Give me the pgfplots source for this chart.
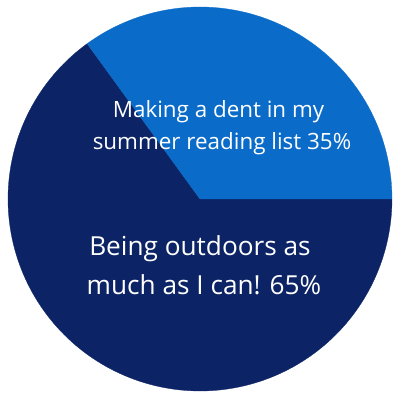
\documentclass[border=0pt]{standalone}
\usepackage{fontspec}
\setmainfont{Open Sans}
\usepackage{pgfplots}
\usepackage{pgfplotstable}
\pgfplotsset{compat=1.18}

\definecolor{lightblue}{HTML}{0A6BC9}
\definecolor{navy}{HTML}{0C2465}

% share of answers, in percent, counted anticlockwise from 3 o'clock
\pgfplotstableread{
label    share
reading  35
outdoors 65
}\pietab

\begin{document}
\begin{tikzpicture}
\pgfplotstablegetelem{0}{share}\of\pietab
\pgfmathsetmacro{\angA}{3.6*\pgfplotsretval}
\begin{axis}[
  width=400bp, height=400bp,
  scale only axis,
  xmin=0, xmax=400, ymin=0, ymax=400,
  hide axis,
  clip=false,
]
% keep the whole 400x400 frame in the picture
\path (axis cs:0,0) rectangle (axis cs:400,400);
% outdoors slice
\addplot[draw=navy, line width=0.3pt, fill=navy, domain=\angA:360, samples=150, variable=\t]
  ({200+192*cos(t)}, {201+192*sin(t)}) -- (200,201) -- cycle;
% reading slice
\addplot[draw=lightblue, line width=0.3pt, fill=lightblue, domain=0:\angA, samples=80, variable=\t]
  ({200+192*cos(t)}, {201+192*sin(t)}) -- (200,201) -- cycle;

\node[anchor=base, text=white, font=\fontsize{22.4bp}{26bp}\selectfont] at (axis cs:218.5,283) {Making a dent in my};
\node[anchor=base, text=white, font=\fontsize{22.4bp}{26bp}\selectfont] at (axis cs:222,251) {summer reading list 35\%};
\node[anchor=base, text=white, font=\fontsize{26.2bp}{30bp}\selectfont] at (axis cs:200,145) {Being outdoors as};
\node[anchor=base, text=white, font=\fontsize{26.2bp}{30bp}\selectfont] at (axis cs:204,106) {much as I can! 65\%};
\end{axis}
\end{tikzpicture}
\end{document}
